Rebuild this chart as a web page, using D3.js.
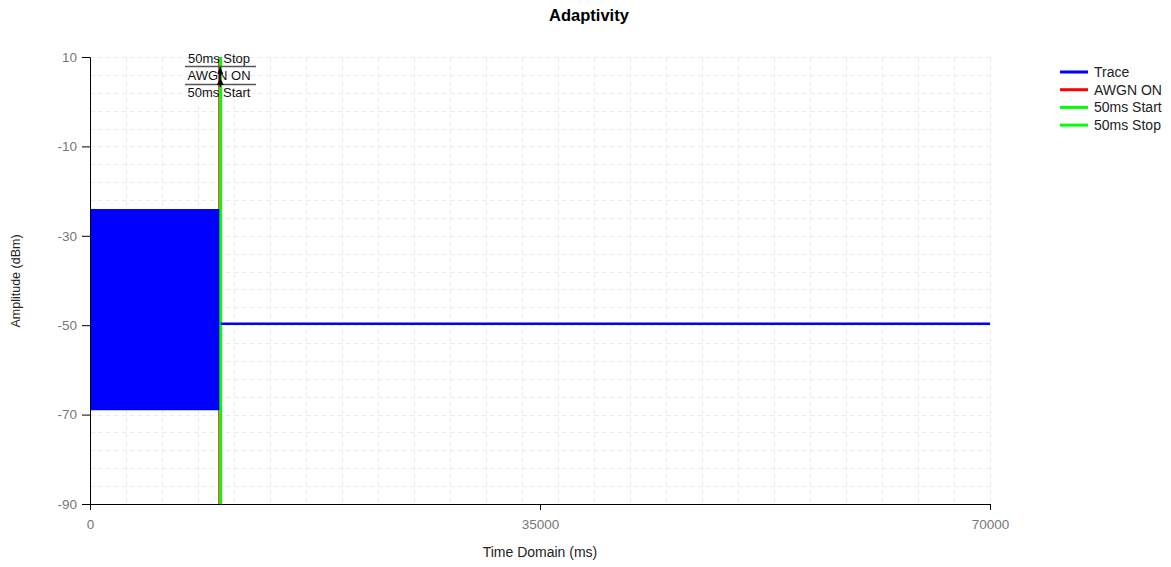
<!DOCTYPE html>
<html>
<head>
<meta charset="utf-8">
<script src="https://cdn.jsdelivr.net/npm/d3@7"></script>
<style>
  html, body { margin: 0; padding: 0; background: #fff; }
  svg { display: block; font-family: "Liberation Sans", Arial, sans-serif; }
</style>
</head>
<body>
<svg id="chart" width="1171" height="567"></svg>
<script>
// ---- data ----
const xTicks = [0, 35000, 70000];
const yTicks = [10, -10, -30, -50, -70, -90];

// burst section (dense oscillation drawn as envelope)
const burstTime = [0, 10060];
const burstMax = [-24, -24];
const burstMin = [-69, -69];

// steady section after AWGN ON
const steadyTime = [10150, 20000, 30000, 40000, 50000, 60000, 70000];
const steadyLevel = [-49.7, -49.7, -49.7, -49.7, -49.7, -49.7, -49.7];

const markerNames = ["AWGN ON", "50ms Start", "50ms Stop"];
const markerTimes = [10020, 10130, 10200];

const legendNames = ["Trace", "AWGN ON", "50ms Start", "50ms Stop"];
const legendColors = ["#0000ff", "#ff0000", "#00ff00", "#00ff00"];

// ---- drawing ----
const svg = d3.select("#chart");
const x = d3.scaleLinear().domain([0, 70000]).range([90, 990]);
const y = d3.scaleLinear().domain([-90, 10]).range([504, 57]);

// grid
const gridX = d3.range(0, 70001, 2800);
const gridY = d3.range(-90, 10.01, 4);
const grid = svg.append("g").attr("stroke", "#ededed").attr("stroke-width", 1).attr("stroke-dasharray", "5,3");
grid.selectAll(".gx").data(gridX).join("line")
  .attr("x1", d => Math.round(x(d)) + 0.5).attr("x2", d => Math.round(x(d)) + 0.5)
  .attr("y1", y(10)).attr("y2", y(-90));
grid.selectAll(".gy").data(gridY).join("line")
  .attr("y1", d => Math.round(y(d)) + 0.5).attr("y2", d => Math.round(y(d)) + 0.5)
  .attr("x1", x(0)).attr("x2", x(70000));

// marker lines (drawn before trace so trace overlaps red edge)
const markerColors = ["#ff0000", "#00ff00", "#00ff00"];
const markerWidths = [1.2, 2, 2];
svg.selectAll(".marker").data(markerTimes).join("line")
  .attr("x1", d => x(d)).attr("x2", d => x(d))
  .attr("y1", y(10)).attr("y2", y(-90))
  .attr("stroke", (d, i) => markerColors[i]).attr("stroke-width", (d, i) => markerWidths[i]);

// burst envelope
const burst = burstTime.map((t, i) => ({ t, hi: burstMax[i], lo: burstMin[i] }));
svg.append("path").datum(burst)
  .attr("fill", "#0000ff")
  .attr("d", d3.area().x(d => x(d.t)).y0(d => y(d.lo)).y1(d => y(d.hi)));

// steady line
const steady = steadyTime.map((t, i) => ({ t, v: steadyLevel[i] }));
svg.append("path").datum(steady)
  .attr("fill", "none").attr("stroke", "#0000ff").attr("stroke-width", 2.5)
  .attr("d", d3.line().x(d => x(d.t)).y(d => y(d.v)));

// annotation labels
const ax = x(markerTimes[1]);
const annLabels = ["50ms Stop", "AWGN ON", "50ms Start"];
const annBase = [63, 80, 97];
svg.selectAll(".ann").data(annLabels).join("text")
  .attr("x", 219).attr("y", (d, i) => annBase[i])
  .attr("text-anchor", "middle").attr("font-size", 13).attr("fill", "#111")
  .text(d => d);
[66.5, 84.5].forEach(yy => {
  svg.append("line").attr("x1", 185).attr("x2", 256).attr("y1", yy).attr("y2", yy)
    .attr("stroke", "#555").attr("stroke-width", 1.5);
});
svg.append("line").attr("x1", ax).attr("x2", ax).attr("y1", 67).attr("y2", 87)
  .attr("stroke", "#000").attr("stroke-width", 1.5);
svg.append("path").attr("d", `M${ax},67 L${ax-3},74 L${ax+3},74 Z`).attr("fill", "#000");
svg.append("path").attr("d", `M${ax},78 L${ax-3.5},85 L${ax+3.5},85 Z`).attr("fill", "#000");

// axes
const fmt = d => String(d);
const xAxis = d3.axisBottom(x).tickValues(xTicks).tickFormat(fmt).tickSizeOuter(0).tickSize(6);
const gx = svg.append("g").attr("transform", `translate(0,${y(-90)})`).call(xAxis);
gx.select(".domain").attr("stroke", "#000");
gx.selectAll(".tick line").attr("stroke", "#000");
gx.selectAll(".tick text").attr("fill", "#777").attr("font-size", 13.5).attr("dy", "1.2em")
  .attr("font-family", "Liberation Sans, Arial, sans-serif");

const yAxis = d3.axisLeft(y).tickValues(yTicks).tickFormat(fmt).tickSizeOuter(0).tickSize(8);
const gy = svg.append("g").attr("transform", `translate(${x(0)},0)`).call(yAxis);
gy.select(".domain").attr("stroke", "#000");
gy.selectAll(".tick line").attr("stroke", "#000");
gy.selectAll(".tick text").attr("fill", "#777").attr("font-size", 13.5).attr("x", -13)
  .attr("font-family", "Liberation Sans, Arial, sans-serif");

// titles
svg.append("text").attr("x", 589).attr("y", 21).attr("text-anchor", "middle")
  .attr("font-size", 16.5).attr("font-weight", "bold").attr("fill", "#000").text("Adaptivity");
svg.append("text").attr("x", 540).attr("y", 557).attr("text-anchor", "middle")
  .attr("font-size", 14).attr("fill", "#222").text("Time Domain (ms)");
svg.append("text").attr("transform", "translate(20,281) rotate(-90)").attr("text-anchor", "middle")
  .attr("font-size", 12.5).attr("fill", "#222").text("Amplitude (dBm)");

// legend
const lg = svg.append("g");
legendNames.forEach((n, i) => {
  const yy = 72 + i * 17.7;
  lg.append("line").attr("x1", 1060).attr("x2", 1088).attr("y1", yy).attr("y2", yy)
    .attr("stroke", legendColors[i]).attr("stroke-width", 3);
  lg.append("text").attr("x", 1094).attr("y", yy + 5).attr("font-size", 14).attr("fill", "#222").text(n);
});
</script>
</body>
</html>
